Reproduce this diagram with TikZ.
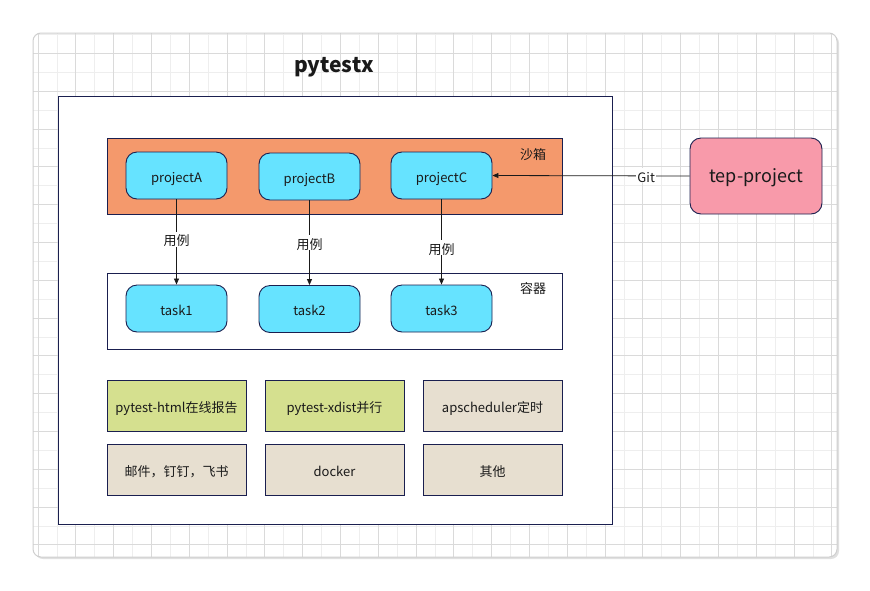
\documentclass[tikz,border=0pt]{standalone}
\usepackage{fontspec}
\setmainfont{Noto Sans CJK SC}
\usetikzlibrary{arrows.meta}
\definecolor{navy}{HTML}{1A1F4F}
\definecolor{cyanfill}{HTML}{66E3FF}
\definecolor{orangefill}{HTML}{F4996C}
\definecolor{pinkfill}{HTML}{F89AAA}
\definecolor{greenfill}{HTML}{D5E08F}
\definecolor{beigefill}{HTML}{E7DFD0}
\definecolor{gridminor}{HTML}{EEEEEE}
\definecolor{gridmajor}{HTML}{DADADA}
\definecolor{canvasedge}{HTML}{CFCFCF}
\definecolor{txt}{HTML}{1A1A1A}
\tikzset{
  tfont/.style={font=\fontsize{13}{15}\selectfont, text height=13pt, text depth=0pt},
  box/.style={draw=navy, line width=0.9pt, inner sep=0pt, text=txt, tfont},
  proj/.style={box, rounded corners=11pt, fill=cyanfill, minimum width=101pt, minimum height=47pt},
  area/.style={box, minimum width=455pt, minimum height=76pt},
  tool/.style={box, minimum width=139pt, minimum height=51pt},
  lbl/.style={tfont, text=txt, fill=white, inner sep=1pt},
  corner/.style={tfont, text=txt, inner sep=0pt},
  conn/.style={draw=txt, line width=0.8pt, -{Triangle[length=6pt,width=5pt]}},
}
\begin{document}
\begin{tikzpicture}[x=1pt,y=-1pt]
\useasboundingbox (0,0) rectangle (870,590);
% canvas shadow and canvas
\fill[black!12, rounded corners=8pt] (35,35) rectangle (839,559);
\fill[white, rounded corners=8pt] (33,33) rectangle (837,557);
\begin{scope}
\clip[rounded corners=8pt] (33,33) rectangle (837,557);
\foreach \i in {0,...,42} {
  \pgfmathsetmacro{\xx}{38+18.9*\i}
  \draw[gridminor, line width=0.8pt] (\xx,33) -- (\xx,557);
}
\foreach \i in {0,...,28} {
  \pgfmathsetmacro{\yy}{34.5+18.9*\i}
  \draw[gridminor, line width=0.8pt] (33,\yy) -- (837,\yy);
}
\foreach \i in {0,...,21} {
  \pgfmathsetmacro{\xx}{38+37.8*\i}
  \draw[gridmajor, line width=0.8pt] (\xx,33) -- (\xx,557);
}
\foreach \i in {0,...,14} {
  \pgfmathsetmacro{\yy}{53.4+37.8*\i}
  \draw[gridmajor, line width=0.8pt] (33,\yy) -- (837,\yy);
}
\end{scope}
\draw[canvasedge, line width=1pt, rounded corners=8pt] (33,33) rectangle (837,557);

% title
\node[font=\fontsize{21}{24}\selectfont\bfseries, text=txt, inner sep=0pt, text height=18pt, text depth=1pt] (title) at (334,64) {pytestx};

% outer box
\node[box, fill=white, minimum width=554pt, minimum height=428pt] (outer) at (335,310) {};

% sandbox
\node[area, fill=orangefill] (sandbox) at (334.5,176) {};
\node[corner] (sandboxlbl) at (533,153) {沙箱};
\node[proj] (pa) at (176.5,175.5) {projectA};
\node[proj] (pb) at (309.5,176.5) {projectB};
\node[proj] (pc) at (441.5,175.5) {projectC};

% container
\node[area, fill=white] (cont) at (334.5,311) {};
\node[corner] (contlbl) at (533,287) {容器};
\node[proj] (t1) at (176.5,308.5) {task1};
\node[proj] (t2) at (309.5,309) {task2};
\node[proj] (t3) at (441.5,308.5) {task3};

% external project
\node[box, rounded corners=11pt, fill=pinkfill, minimum width=132pt, minimum height=76pt, font=\fontsize{18}{21}\selectfont, text height=14pt, text depth=2pt] (tep) at (756,176) {tep-project};

% connectors
\draw[conn] (pa.south) -- node[lbl, pos=0.47] {用例} (t1.north);
\draw[conn] (pb.south) -- node[lbl, pos=0.5] {用例} (t2.north);
\draw[conn] (pc.south) -- node[lbl, pos=0.57] {用例} (t3.north);
\draw[conn] (tep.west) -- node[lbl, pos=0.22] {Git} (pc.east);

% tool boxes
\node[tool, fill=greenfill] (html) at (176.5,405.5) {pytest-html在线报告};
\node[tool, fill=greenfill] (xdist) at (334.5,405.5) {pytest-xdist并行};
\node[tool, fill=beigefill] (aps) at (492.5,405.5) {apscheduler定时};
\node[tool, fill=beigefill] (notify) at (176.5,469.5) {邮件，钉钉，飞书};
\node[tool, fill=beigefill] (docker) at (334.5,469.5) {docker};
\node[tool, fill=beigefill] (other) at (492.5,469.5) {其他};
\end{tikzpicture}
\end{document}
